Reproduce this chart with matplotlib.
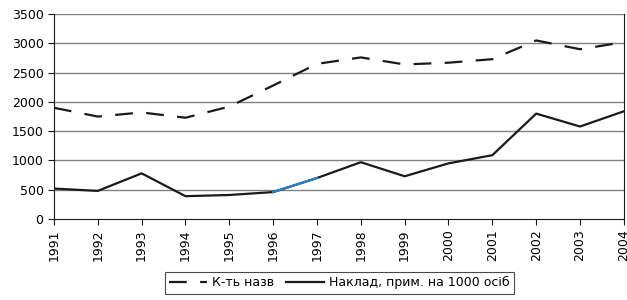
import numpy as np
import matplotlib
matplotlib.use('Agg')
import matplotlib.pyplot as plt

years = list(range(1991, 2005))
titles = [1900, 1750, 1820, 1730, 1920, 2280, 2650, 2760, 2640, 2670, 2730, 3050, 2900, 3020]
copies = [520, 480, 780, 390, 410, 460, 700, 970, 730, 950, 1090, 1800, 1580, 1840]

fig = plt.figure(figsize=(6.27, 3.0), dpi=100)
ax = fig.add_axes([0.086, 0.27, 0.909, 0.683])

for y in range(500, 3501, 500):
    ax.axhline(y, color='#808080', lw=1.0, zorder=1)

ax.plot(years, titles, color='#1a1a1a', lw=1.6, dashes=(8, 6), label='К-ть назв', zorder=3)
ax.plot(years, copies, color='#1a1a1a', lw=1.6, label='Наклад, прим. на 1000 осіб', zorder=3)
# highlighted segment 1996-1997
ax.plot(years[5:7], copies[5:7], color='#2a7fc4', lw=1.6, zorder=4)

ax.set_xlim(1991, 2004)
ax.set_ylim(0, 3500)
ax.set_yticks(range(0, 3501, 500))
ax.set_xticks(years)
ax.set_xticklabels([str(y) for y in years], rotation=90)
ax.tick_params(axis='both', labelsize=9, direction='out', length=4, color='#1a1a1a')
ax.spines['top'].set_visible(False)
for s in ['left', 'bottom', 'right']:
    ax.spines[s].set_color('#1a1a1a')

leg = fig.legend(loc='lower center', bbox_to_anchor=(0.541, 0.0), ncol=2, fontsize=9,
                 frameon=True, fancybox=False, edgecolor='#1a1a1a', handlelength=3,
                 columnspacing=1.0, handletextpad=0.4, borderpad=0.35)
leg.get_frame().set_linewidth(0.8)

fig.savefig('out.png', dpi=100)
